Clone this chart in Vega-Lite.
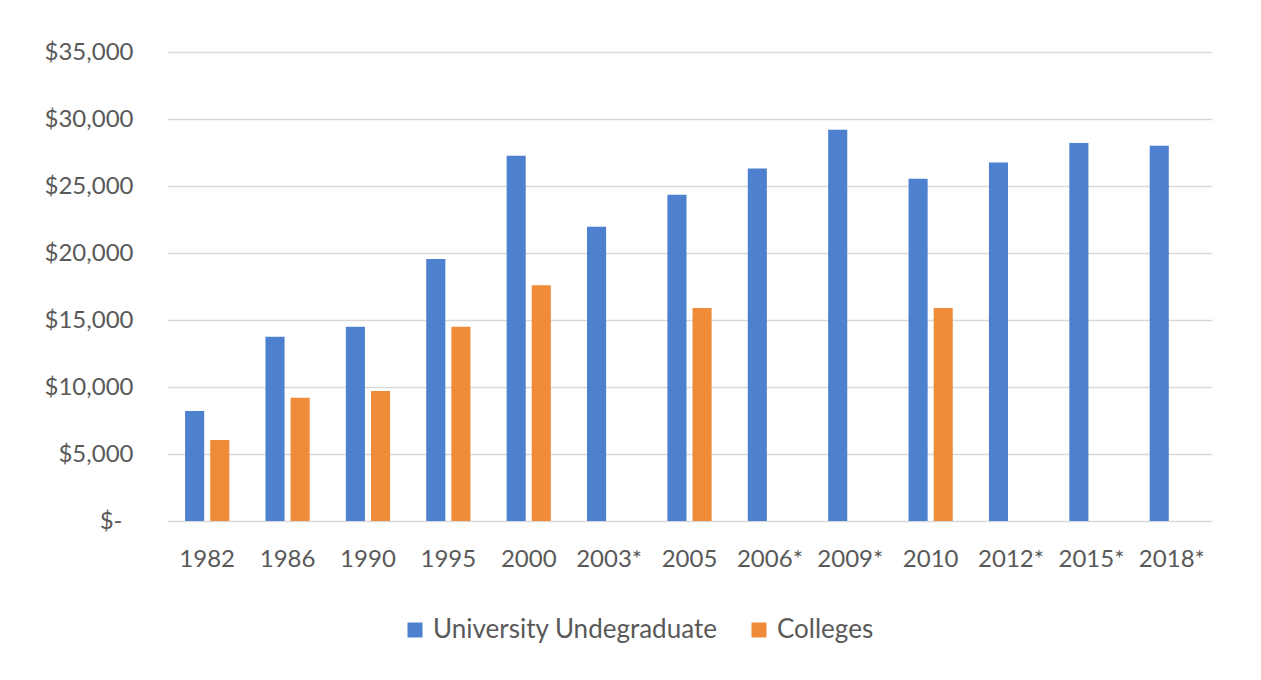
{
  "$schema": "https://vega.github.io/schema/vega-lite/v6.json",
  "width": 1045,
  "height": 469,
  "autosize": {"type": "none"},
  "padding": {"left": 167, "top": 52, "right": 49, "bottom": 159},
  "background": "white",
  "config": {
    "view": {"stroke": null},
    "font": "Lato",
    "axis": {"labelColor": "#595959", "labelFontSize": 24, "labelFont": "Lato"},
    "legend": {"labelColor": "#595959", "labelFontSize": 26, "labelFont": "Lato", "labelLimit": 0}
  },
  "data": {
    "values": [
      {"year": "1982", "series": "University Undegraduate", "value": 8200},
      {"year": "1982", "series": "Colleges", "value": 6050},
      {"year": "1986", "series": "University Undegraduate", "value": 13750},
      {"year": "1986", "series": "Colleges", "value": 9200},
      {"year": "1990", "series": "University Undegraduate", "value": 14500},
      {"year": "1990", "series": "Colleges", "value": 9700},
      {"year": "1995", "series": "University Undegraduate", "value": 19550},
      {"year": "1995", "series": "Colleges", "value": 14500},
      {"year": "2000", "series": "University Undegraduate", "value": 27250},
      {"year": "2000", "series": "Colleges", "value": 17600},
      {"year": "2003*", "series": "University Undegraduate", "value": 21950},
      {"year": "2005", "series": "University Undegraduate", "value": 24350},
      {"year": "2005", "series": "Colleges", "value": 15900},
      {"year": "2006*", "series": "University Undegraduate", "value": 26300},
      {"year": "2009*", "series": "University Undegraduate", "value": 29200},
      {"year": "2010", "series": "University Undegraduate", "value": 25550},
      {"year": "2010", "series": "Colleges", "value": 15900},
      {"year": "2012*", "series": "University Undegraduate", "value": 26750},
      {"year": "2015*", "series": "University Undegraduate", "value": 28200},
      {"year": "2018*", "series": "University Undegraduate", "value": 28000}
    ]
  },
  "mark": {"type": "bar"},
  "encoding": {
    "x": {
      "field": "year",
      "type": "nominal",
      "sort": null,
      "scale": {"paddingInner": 0.45, "paddingOuter": 0.225},
      "axis": {"title": null, "labelAngle": 0, "ticks": false, "domain": false, "labelPadding": 26, "grid": false}
    },
    "xOffset": {
      "field": "series",
      "type": "nominal",
      "scale": {"domain": ["University Undegraduate", "Colleges"], "paddingInner": 0.24, "paddingOuter": 0}
    },
    "y": {
      "field": "value",
      "type": "quantitative",
      "scale": {"domain": [0, 35000], "nice": false},
      "axis": {
        "title": null,
        "values": [0, 5000, 10000, 15000, 20000, 25000, 30000, 35000],
        "labelExpr": "datum.value == 0 ? '$-' : '$' + format(datum.value, ',')",
        "ticks": false,
        "domain": false,
        "labelPadding": {"condition": {"test": "datum.value == 0", "value": 45}, "value": 34},
        "grid": true,
        "gridColor": "#d9d9d9",
        "gridWidth": 1.5
      }
    },
    "color": {
      "field": "series",
      "type": "nominal",
      "scale": {"domain": ["University Undegraduate", "Colleges"], "range": ["#4d80cf", "#ef8b39"]},
      "legend": {
        "title": null,
        "orient": "none",
        "direction": "horizontal",
        "legendX": 235,
        "legendY": 565,
        "symbolType": "square",
        "symbolSize": 225,
        "symbolStrokeWidth": 0,
        "labelOffset": 5,
        "columnPadding": 28
      }
    }
  }
}
